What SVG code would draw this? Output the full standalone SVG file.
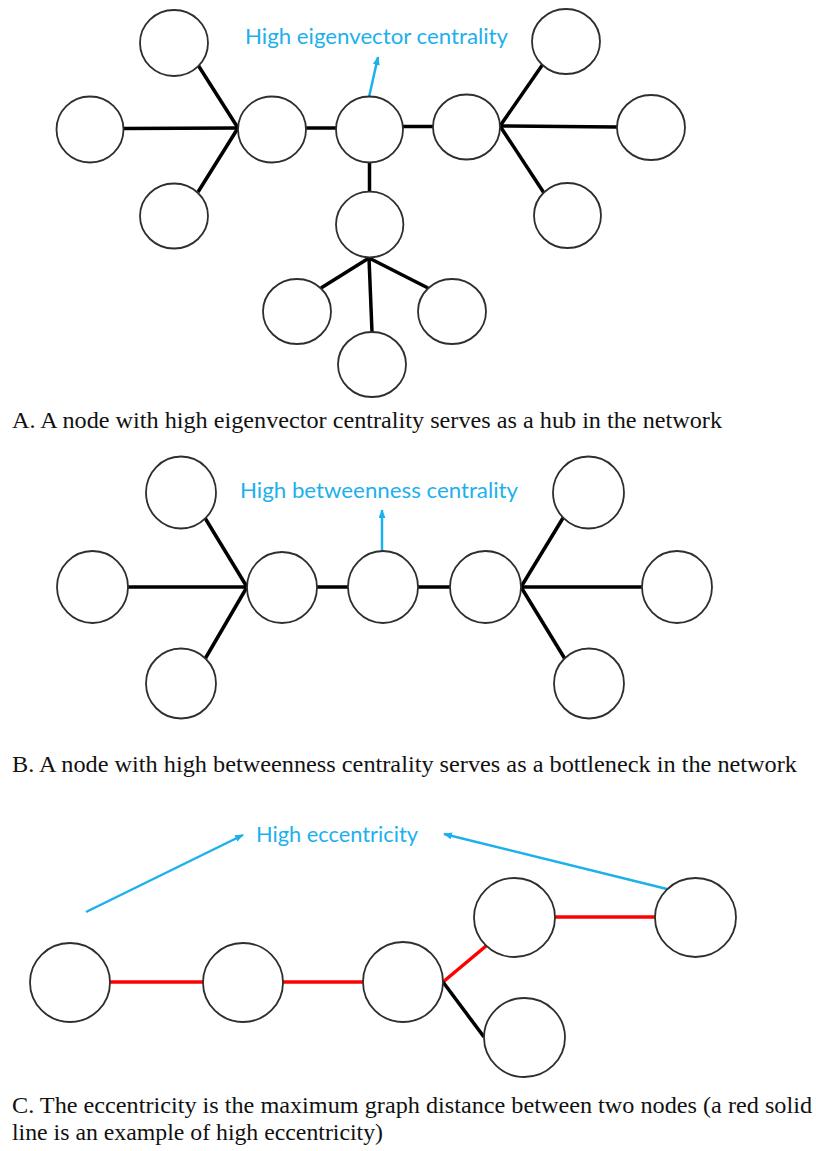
<svg xmlns="http://www.w3.org/2000/svg" width="816" height="1151" viewBox="0 0 816 1151">
<defs>
<style>
.node{fill:#fff;stroke:#2e2e2e;stroke-width:1.8}
.edge{stroke:#000;stroke-width:3.5;fill:none;stroke-linecap:butt}
.red{stroke:#ff0000;stroke-width:3.5;fill:none}
.ptr{stroke:#1cb0ec;stroke-width:2.5;fill:none;marker-end:url(#ah)}
.lbl{font-family:Lato,"Open Sans",sans-serif;font-size:21px;fill:#1cb0ec}
.cap{font-family:"Liberation Serif","Times New Roman",serif;font-size:24px;fill:#111}
</style>
<marker id="ah" viewBox="0 0 10 8" refX="9" refY="4" markerWidth="9" markerHeight="7" markerUnits="userSpaceOnUse" orient="auto">
<path d="M0,0 L10,4 L0,8 z" fill="#1cb0ec"/>
</marker>
</defs>
<rect width="816" height="1151" fill="#fff"/>

<g id="connectors">
<!-- A -->
<line class="edge" x1="198" y1="65" x2="238" y2="128"/>
<line class="edge" x1="123" y1="128.5" x2="238" y2="128"/>
<line class="edge" x1="198" y1="192" x2="238" y2="128"/>
<line class="edge" x1="306" y1="128" x2="336" y2="128"/>
<line class="edge" x1="403" y1="126.5" x2="433" y2="126.5"/>
<line class="edge" x1="369.5" y1="162" x2="369.5" y2="192"/>
<line class="edge" x1="500" y1="126" x2="543" y2="64"/>
<line class="edge" x1="500" y1="126" x2="617" y2="127"/>
<line class="edge" x1="500" y1="126" x2="544" y2="193"/>
<line class="edge" x1="369" y1="258" x2="321" y2="288"/>
<line class="edge" x1="369" y1="258" x2="428" y2="288"/>
<line class="edge" x1="369" y1="258" x2="372" y2="332"/>
<line class="ptr" x1="369" y1="97" x2="378" y2="57"/>
<!-- B -->
<line class="edge" x1="205" y1="518" x2="247" y2="587"/>
<line class="edge" x1="128" y1="587" x2="247" y2="587"/>
<line class="edge" x1="205" y1="659" x2="247" y2="587"/>
<line class="edge" x1="317" y1="587" x2="348" y2="587"/>
<line class="edge" x1="418" y1="587" x2="450" y2="587"/>
<line class="edge" x1="521" y1="587" x2="563" y2="518"/>
<line class="edge" x1="521" y1="587" x2="642" y2="587"/>
<line class="edge" x1="521" y1="587" x2="565" y2="659"/>
<line class="ptr" x1="382" y1="551" x2="382" y2="510"/>
<!-- C -->
<line class="red" x1="110" y1="982" x2="203" y2="982"/>
<line class="red" x1="283" y1="982" x2="363" y2="982"/>
<line class="red" x1="443" y1="982" x2="486" y2="946"/>
<line class="red" x1="555" y1="917" x2="655" y2="917"/>
<line class="edge" x1="443" y1="982" x2="484" y2="1037"/>
<line class="ptr" x1="86" y1="912" x2="243" y2="835"/>
<line class="ptr" x1="667" y1="889" x2="444" y2="834"/>
</g>

<g id="A-nodes">
<g id="a-topleft"><ellipse class="node" cx="174" cy="43" rx="34" ry="33"/></g>
<g id="a-left"><ellipse class="node" cx="90" cy="129.5" rx="33.5" ry="33"/></g>
<g id="a-bottomleft"><ellipse class="node" cx="174" cy="216" rx="34" ry="32.5"/></g>
<g id="a-hub1"><ellipse class="node" cx="272" cy="129.5" rx="34" ry="33"/></g>
<g id="a-center"><ellipse class="node" cx="369.5" cy="129.5" rx="33.5" ry="33"/></g>
<g id="a-hub2"><ellipse class="node" cx="466.5" cy="127" rx="33.5" ry="32.5"/></g>
<g id="a-topright"><ellipse class="node" cx="566" cy="41.5" rx="34" ry="32.5"/></g>
<g id="a-right"><ellipse class="node" cx="651" cy="127.5" rx="34" ry="32.5"/></g>
<g id="a-bottomright"><ellipse class="node" cx="567.5" cy="215.5" rx="33.5" ry="32.5"/></g>
<g id="a-below"><ellipse class="node" cx="369.7" cy="224.5" rx="33.7" ry="32.8"/></g>
<g id="a-child-left"><ellipse class="node" cx="297" cy="311.5" rx="34" ry="32.5"/></g>
<g id="a-child-right"><ellipse class="node" cx="452" cy="311.5" rx="34" ry="32.5"/></g>
<g id="a-child-bottom"><ellipse class="node" cx="372" cy="364.5" rx="34" ry="32.5"/></g>
</g>
<g id="A-label"><text class="lbl" x="245" y="44" textLength="263" lengthAdjust="spacingAndGlyphs">High eigenvector centrality</text></g>
<g id="A-caption"><text class="cap" x="12" y="428" textLength="710" lengthAdjust="spacingAndGlyphs">A. A node with high eigenvector centrality serves as a hub in the network</text></g>

<g id="B-nodes">
<g id="b-topleft"><ellipse class="node" cx="181" cy="492.5" rx="35" ry="36"/></g>
<g id="b-left"><ellipse class="node" cx="92.5" cy="587" rx="35.5" ry="36"/></g>
<g id="b-bottomleft"><ellipse class="node" cx="181" cy="683.5" rx="35" ry="35"/></g>
<g id="b-hub1"><ellipse class="node" cx="282" cy="587.5" rx="35" ry="35.5"/></g>
<g id="b-center"><ellipse class="node" cx="383" cy="587" rx="35" ry="36"/></g>
<g id="b-hub2"><ellipse class="node" cx="485.5" cy="587" rx="35.5" ry="36"/></g>
<g id="b-topright"><ellipse class="node" cx="588.5" cy="492.5" rx="35.5" ry="36"/></g>
<g id="b-right"><ellipse class="node" cx="677" cy="587" rx="35" ry="36"/></g>
<g id="b-bottomright"><ellipse class="node" cx="589" cy="683.5" rx="35" ry="35"/></g>
</g>
<g id="B-label"><text class="lbl" x="240" y="498" textLength="278" lengthAdjust="spacingAndGlyphs">High betweenness centrality</text></g>
<g id="B-caption"><text class="cap" x="12" y="772" textLength="785" lengthAdjust="spacingAndGlyphs">B. A node with high betweenness centrality serves as a bottleneck in the network</text></g>

<g id="C-nodes">
<g id="c-n1"><ellipse class="node" cx="70" cy="982.5" rx="40" ry="39.5"/></g>
<g id="c-n2"><ellipse class="node" cx="243" cy="982.5" rx="40" ry="39.5"/></g>
<g id="c-n3"><ellipse class="node" cx="403" cy="982" rx="40" ry="40"/></g>
<g id="c-n4"><ellipse class="node" cx="514.5" cy="917.5" rx="40.5" ry="39.5"/></g>
<g id="c-n5"><ellipse class="node" cx="695.5" cy="917.5" rx="40.5" ry="39.5"/></g>
<g id="c-n6"><ellipse class="node" cx="524.5" cy="1037.5" rx="40.5" ry="39.5"/></g>
</g>
<g id="C-label"><text class="lbl" x="256" y="842" textLength="162" lengthAdjust="spacingAndGlyphs">High eccentricity</text></g>
<g id="C-caption">
<text class="cap" x="12" y="1113" textLength="800" lengthAdjust="spacingAndGlyphs">C. The eccentricity is the maximum graph distance between two nodes (a red solid</text>
<text class="cap" x="12" y="1140" textLength="371" lengthAdjust="spacingAndGlyphs">line is an example of high eccentricity)</text>
</g>
</svg>
